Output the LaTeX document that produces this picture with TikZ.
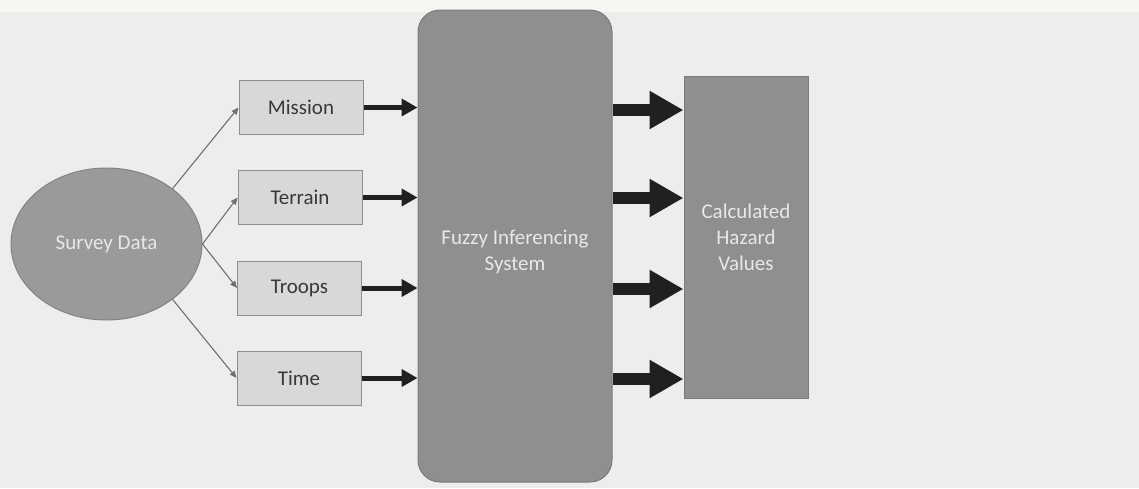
\documentclass[tikz,border=0pt]{standalone}
\usepackage{fontspec}
\setmainfont{Carlito}
\usetikzlibrary{shapes.geometric,arrows.meta}

\definecolor{paper}{HTML}{ECEEEB}
\definecolor{paperlight}{HTML}{F5F7F2}
\definecolor{boxfill}{HTML}{D8D8D8}
\definecolor{boxline}{HTML}{8E8E8E}
\definecolor{darkfill}{HTML}{8F8F8F}
\definecolor{ovalfill}{HTML}{9A9A9A}
\definecolor{inktext}{HTML}{383838}
\definecolor{paletext}{HTML}{E8E8E8}
\definecolor{thinline}{HTML}{707070}
\definecolor{heavy}{HTML}{202020}

\tikzset{
  txt/.style={font=\fontsize{21}{26}\selectfont, align=center, inner sep=0pt},
  inputbox/.style={txt, rectangle, draw=boxline, line width=1pt, fill=boxfill,
    text=inktext, minimum width=124pt, minimum height=54pt},
  darkbox/.style={txt, draw=darkfill!85!black, line width=1pt, fill=darkfill, text=paletext},
  oval/.style={txt, ellipse, draw=ovalfill!85!black, line width=1pt, fill=ovalfill,
    text=paletext, minimum width=191pt, minimum height=152pt},
  feed/.style={draw=thinline, line width=1.1pt,
    -{Triangle[length=7pt,width=6pt]}},
  inarrow/.style={draw=heavy, fill=heavy, line width=5pt,
    -{Triangle[length=16pt,width=17pt]}},
  outarrow/.style={draw=heavy, fill=heavy, line width=12pt,
    -{Triangle[length=34pt,width=36pt]}},
}

\begin{document}
\begin{tikzpicture}[x=1pt, y=-1pt]
  % page
  \fill[paper] (0,0) rectangle (1139,488);
  \fill[paperlight] (0,0) rectangle (1139,12);
  \useasboundingbox (0,0) rectangle (1139,488);

  % source
  \node[oval] (sd) at (106.5,244) {Survey Data};

  % the four factor boxes
  \node[inputbox] (mission) at (301,107.5) {Mission};
  \node[inputbox] (terrain) at (300,197.5) {Terrain};
  \node[inputbox] (troops)  at (299.5,288) {Troops};
  \node[inputbox] (time)    at (299,378)   {Time};

  % inference engine and result
  \node[darkbox, rounded corners=22pt, minimum width=194pt, minimum height=472pt,
        label={[txt, text=paletext, yshift=-6pt]center:{Fuzzy Inferencing\\System}}]
    (fis) at (515,246) {};
  \node[darkbox, rectangle, minimum width=124pt, minimum height=322pt]
    (chv) at (746,237) {Calculated\\Hazard\\Values};

  % survey data feeds each factor
  \draw[feed] (sd.40)  -- (mission.west);
  \draw[feed] (sd.east) -- (terrain.west);
  \draw[feed] (sd.east) -- (troops.west);
  \draw[feed] (sd.-40) -- (time.west);

  % factors into the inference engine
  \draw[inarrow] (mission.east) -- (fis.west |- mission.east);
  \draw[inarrow] (terrain.east) -- (fis.west |- terrain.east);
  \draw[inarrow] (troops.east)  -- (fis.west |- troops.east);
  \draw[inarrow] (time.east)    -- (fis.west |- time.east);

  % engine outputs into the hazard values
  \coordinate (o1) at (0,110);
  \coordinate (o2) at (0,198);
  \coordinate (o3) at (0,289);
  \coordinate (o4) at (0,379);
  \draw[outarrow] (fis.east |- o1) -- (chv.west |- o1);
  \draw[outarrow] (fis.east |- o2) -- (chv.west |- o2);
  \draw[outarrow] (fis.east |- o3) -- (chv.west |- o3);
  \draw[outarrow] (fis.east |- o4) -- (chv.west |- o4);
\end{tikzpicture}
\end{document}
